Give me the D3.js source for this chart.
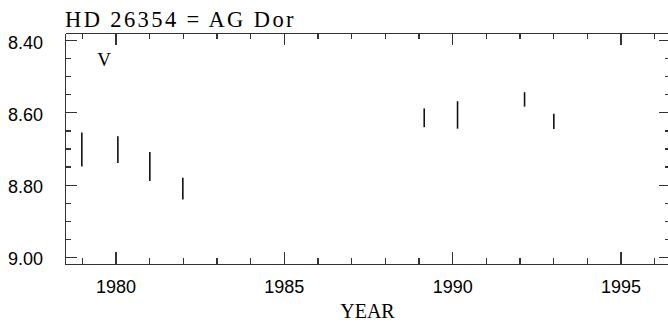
<!DOCTYPE html>
<html>
<head>
<meta charset="utf-8">
<script src="https://cdn.jsdelivr.net/npm/d3@7"></script>
<style>
  html, body { margin: 0; padding: 0; background: #fff; }
  svg { display: block; }
  .axis path, .axis line { stroke: #333; stroke-width: 1.1; shape-rendering: crispEdges; }
  .axis text { font-family: "Liberation Sans", Arial, sans-serif; font-size: 18px; fill: #000; }
</style>
</head>
<body>
<svg id="chart" width="668" height="325"></svg>
<script>
// Photometric V magnitudes of HD 26354 by epoch (year), with error half-ranges
const years = [1979.0, 1980.07, 1981.02, 1982.0, 1989.17, 1990.16, 1992.15, 1993.02];
const vMag  = [8.703, 8.703, 8.750, 8.811, 8.615, 8.607, 8.564, 8.625];
const vErr  = [0.047, 0.037, 0.040, 0.030, 0.026, 0.038, 0.020, 0.021];

const xMajorTicks = [1980, 1985, 1990, 1995];
const yMajorTicks = [8.40, 8.60, 8.80, 9.00];

const titleText = "HD 26354 = AG Dor";
const xTitle = "YEAR";
const bandLabel = "V";

const svg = d3.select("#chart");
const plotL = 65, plotR = 671, plotT = 33, plotB = 264;

const x = d3.scaleLinear().domain([1978.5, 1996.5]).range([plotL, plotR]);
// magnitudes: brighter (smaller) at top
const y = d3.scaleLinear().domain([8.38, 9.02]).range([plotT, plotB]);

const xMinor = d3.range(1979, 1997, 1).filter(v => !xMajorTicks.includes(v));
const yMinor = d3.range(0, 13).map(i => +(8.40 + i * 0.05).toFixed(2))
  .filter(v => !yMajorTicks.some(m => Math.abs(m - v) < 1e-6));

// bottom axis: inward ticks, labels below
svg.append("g").attr("class", "axis")
  .attr("transform", `translate(0,${plotB})`)
  .call(d3.axisBottom(x).tickValues(xMajorTicks).tickFormat(d3.format("d"))
    .tickSize(-12).tickSizeOuter(0).tickPadding(16));
svg.append("g").attr("class", "axis")
  .attr("transform", `translate(0,${plotB})`)
  .call(d3.axisBottom(x).tickValues(xMinor).tickFormat("")
    .tickSize(-6).tickSizeOuter(0));

// top axis: inward ticks, no labels
svg.append("g").attr("class", "axis")
  .attr("transform", `translate(0,${plotT})`)
  .call(d3.axisTop(x).tickValues(xMajorTicks).tickFormat("")
    .tickSize(-12).tickSizeOuter(0));
svg.append("g").attr("class", "axis")
  .attr("transform", `translate(0,${plotT})`)
  .call(d3.axisTop(x).tickValues(xMinor).tickFormat("")
    .tickSize(-6).tickSizeOuter(0));

// left axis with labels
const gl = svg.append("g").attr("class", "axis")
  .attr("transform", `translate(${plotL},0)`)
  .call(d3.axisLeft(y).tickValues(yMajorTicks).tickFormat(d3.format(".2f"))
    .tickSize(-12).tickSizeOuter(0).tickPadding(22));
gl.selectAll("text").attr("dy", "0.45em");
svg.append("g").attr("class", "axis")
  .attr("transform", `translate(${plotL},0)`)
  .call(d3.axisLeft(y).tickValues(yMinor).tickFormat("")
    .tickSize(-6).tickSizeOuter(0));

// right axis
svg.append("g").attr("class", "axis")
  .attr("transform", `translate(${plotR},0)`)
  .call(d3.axisRight(y).tickValues(yMajorTicks).tickFormat("")
    .tickSize(-12).tickSizeOuter(0));
svg.append("g").attr("class", "axis")
  .attr("transform", `translate(${plotR},0)`)
  .call(d3.axisRight(y).tickValues(yMinor).tickFormat("")
    .tickSize(-6).tickSizeOuter(0));

// error bars
svg.append("g").selectAll("line").data(years).join("line")
  .attr("x1", (d) => x(d)).attr("x2", (d) => x(d))
  .attr("y1", (d, i) => y(vMag[i] - vErr[i]))
  .attr("y2", (d, i) => y(vMag[i] + vErr[i]))
  .attr("stroke", "#111").attr("stroke-width", 1.6);

// title, widely tracked
svg.append("text")
  .attr("x", plotL).attr("y", 27)
  .attr("font-family", "'Liberation Serif', 'Times New Roman', serif")
  .attr("font-size", 22.5)
  .attr("letter-spacing", 2.4)
  .attr("fill", "#000")
  .text(titleText);

// passband label
svg.append("text")
  .attr("x", 104).attr("y", 66)
  .attr("font-family", "'Liberation Serif', 'Times New Roman', serif")
  .attr("font-size", 19)
  .attr("text-anchor", "middle")
  .text(bandLabel);

// x-axis title
svg.append("text")
  .attr("x", 367.5).attr("y", 318)
  .attr("font-family", "'Liberation Serif', 'Times New Roman', serif")
  .attr("font-size", 20)
  .attr("text-anchor", "middle")
  .text(xTitle);
</script>
</body>
</html>
